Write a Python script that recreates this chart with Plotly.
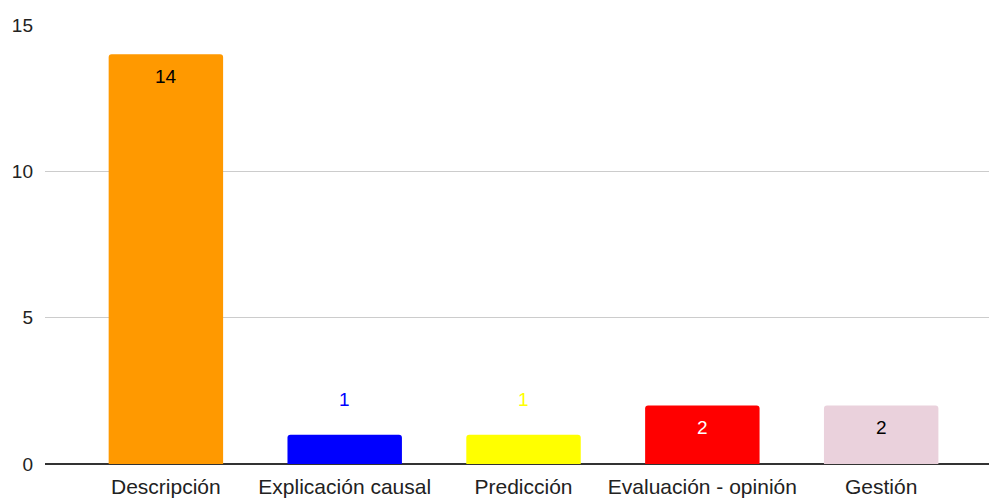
import plotly.graph_objects as go

categories = ["Descripción", "Explicación causal", "Predicción", "Evaluación - opinión", "Gestión"]
values = [14, 1, 1, 2, 2]
bar_colors = ["#ff9900", "#0000ff", "#ffff00", "#ff0000", "#ead1dc"]
label_colors = ["#000000", "#0000ff", "#ffff00", "#ffffff", "#000000"]
label_inside = [True, False, False, True, True]

FONT = "Liberation Sans, Arial, sans-serif"

fig = go.Figure(go.Bar(
    x=categories, y=values,
    marker=dict(color=bar_colors, line=dict(width=0), cornerradius=3),
    width=0.64,
    hoverinfo="skip",
))

for c, v, col, ins in zip(categories, values, label_colors, label_inside):
    fig.add_annotation(x=c, y=v, text=str(v), showarrow=False,
                       yshift=-22 if ins else 35,
                       font=dict(family=FONT, size=19, color=col))

fig.update_layout(
    width=989, height=500,
    margin=dict(l=45, r=0, t=25, b=36),
    paper_bgcolor="white", plot_bgcolor="white",
    font=dict(family=FONT, size=21, color="#222222"),
    showlegend=False,
    xaxis=dict(range=[-0.676, 4.603], showgrid=False, showline=False,
               ticks="", ticklabelstandoff=8, tickfont=dict(size=21, color="#222222")),
    yaxis=dict(range=[0, 15], tickvals=[0, 5, 10, 15], showgrid=True,
               gridcolor="#cccccc", gridwidth=1, zeroline=True,
               zerolinecolor="#333333", zerolinewidth=1.5, showline=False,
               ticklabelstandoff=11, tickfont=dict(size=19, color="#222222")),
)

fig.write_html("out.html")
